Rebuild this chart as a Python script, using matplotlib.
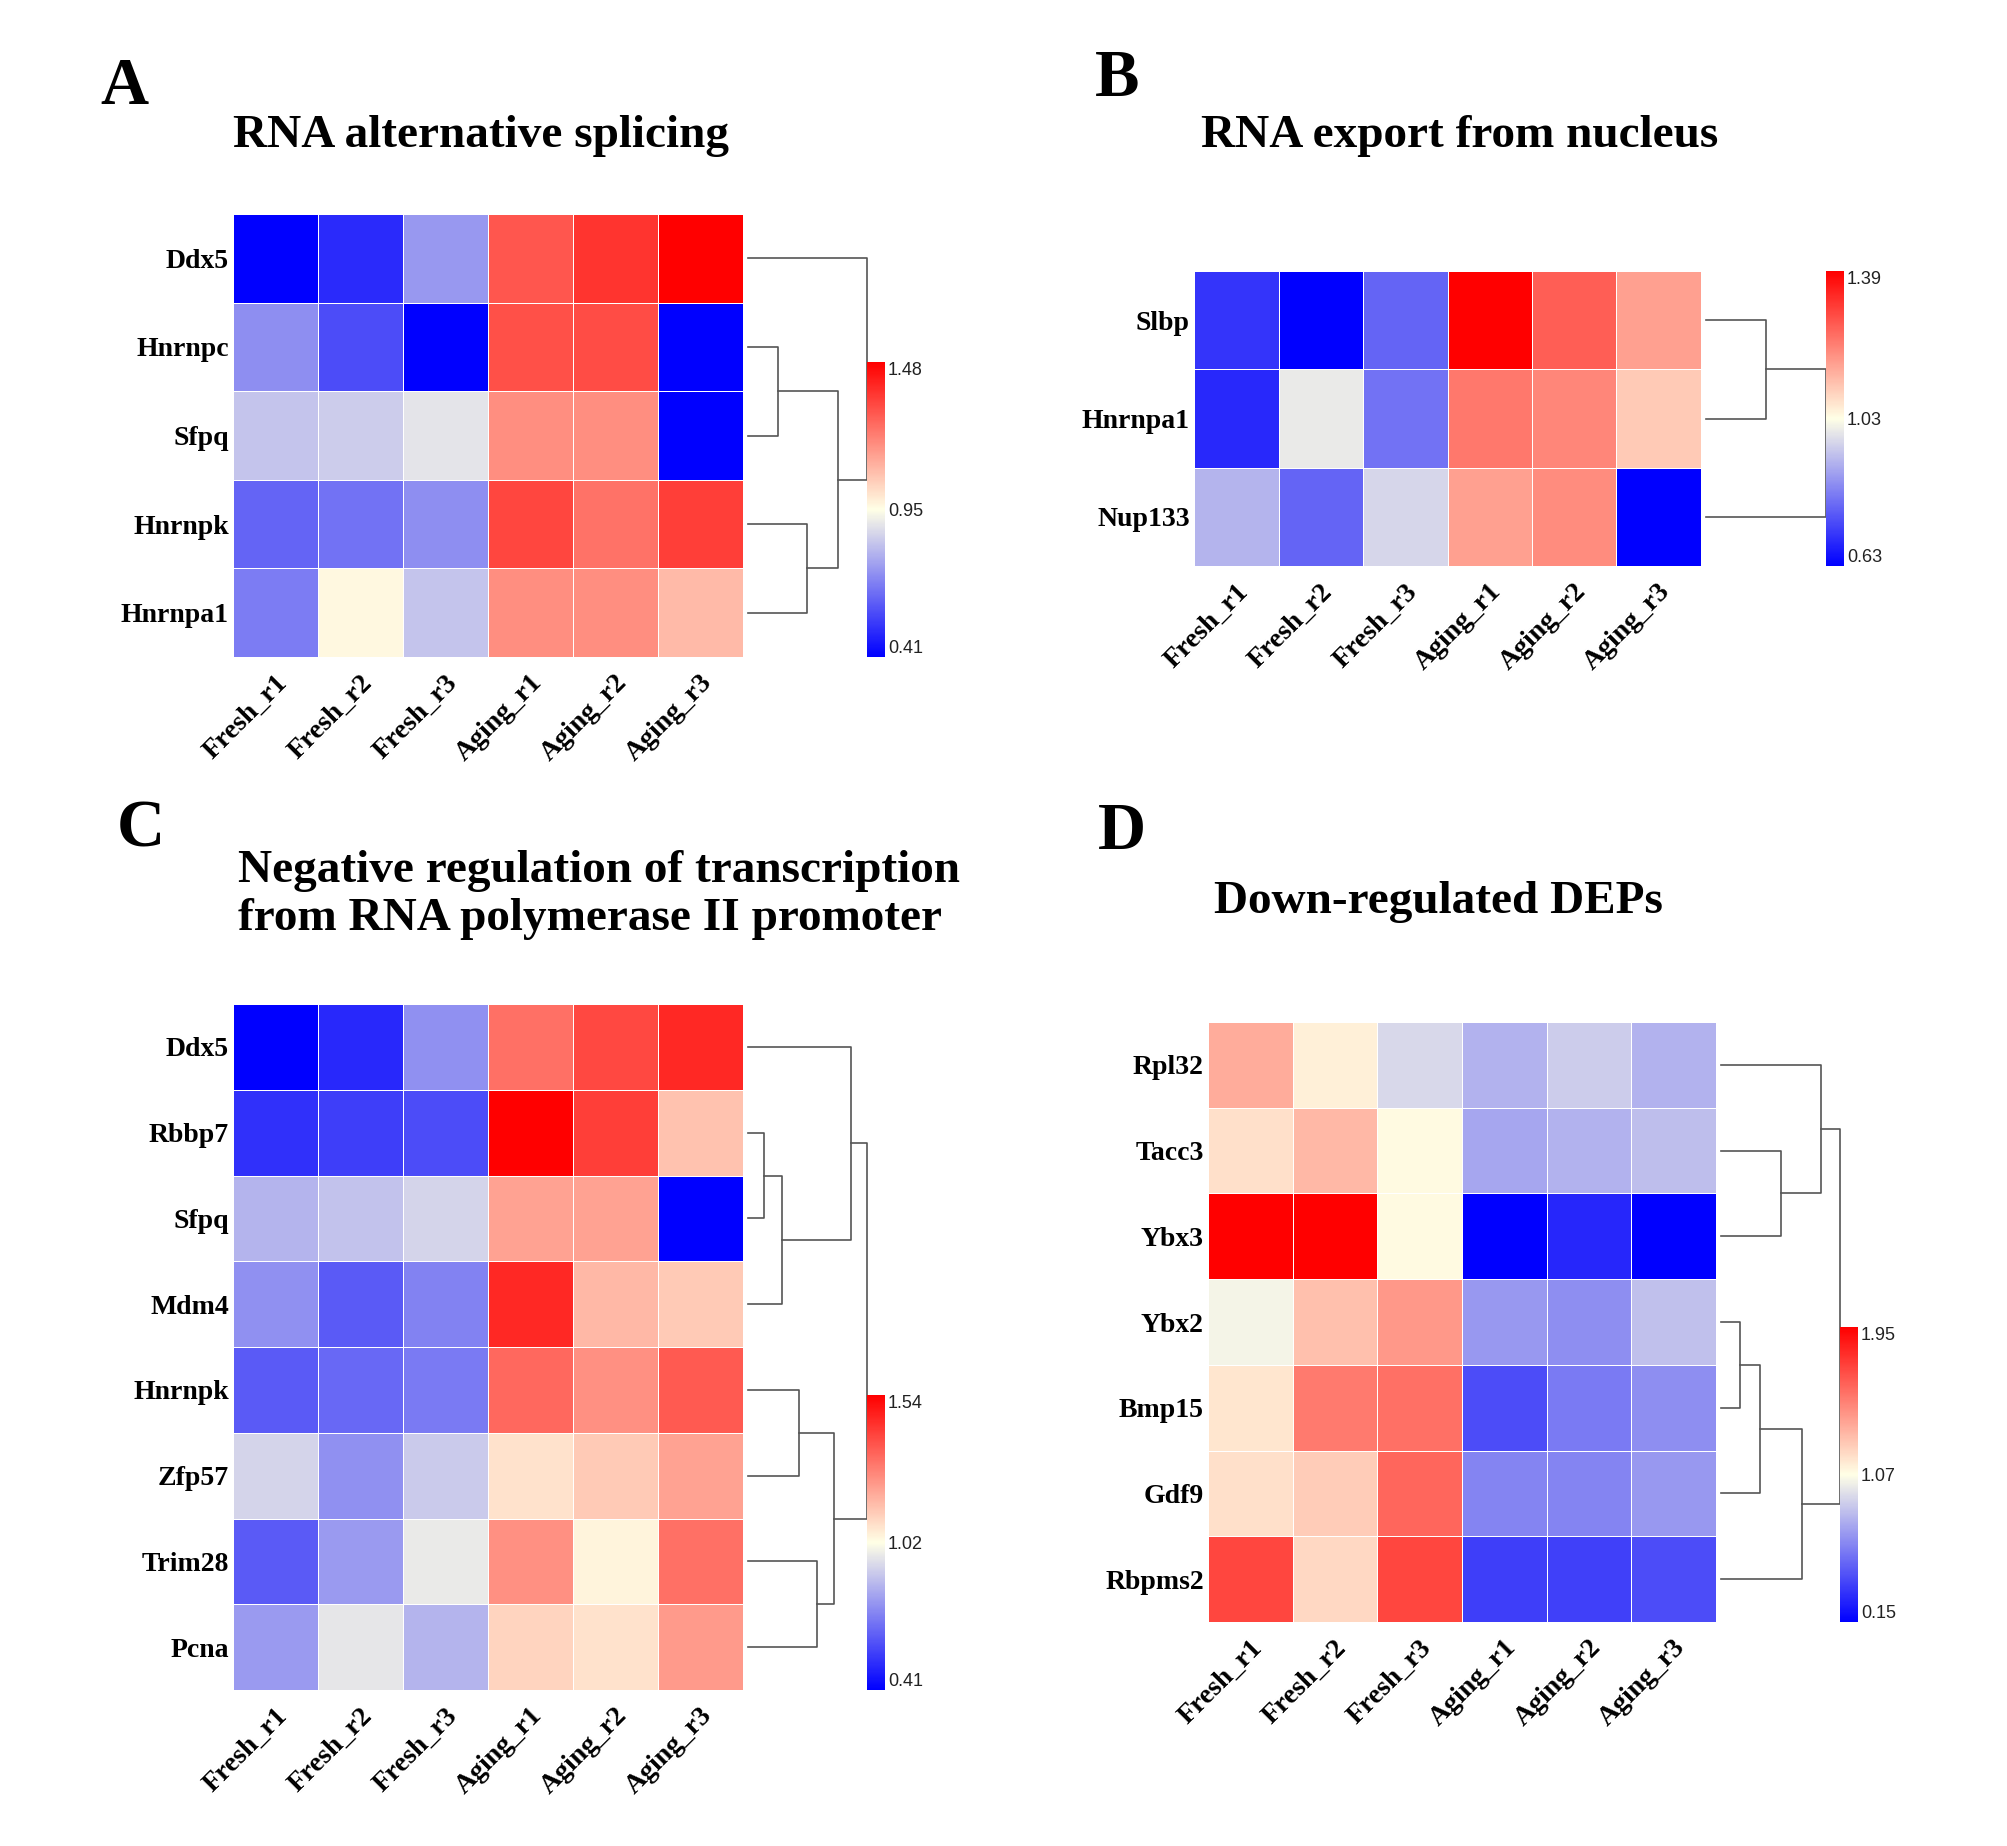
import numpy as np
import matplotlib
matplotlib.use('Agg')
import matplotlib.pyplot as plt
from matplotlib.colors import LinearSegmentedColormap, Normalize
from matplotlib.cm import ScalarMappable
from matplotlib.transforms import offset_copy

# ---------------- data ----------------
samples = ['Fresh_r1', 'Fresh_r2', 'Fresh_r3', 'Aging_r1', 'Aging_r2', 'Aging_r3']

# A - RNA alternative splicing
genes_a = ['Ddx5', 'Hnrnpc', 'Sfpq', 'Hnrnpk', 'Hnrnpa1']
expr_a = [[0.41, 0.50, 0.73, 1.30, 1.37, 1.48],
          [0.71, 0.57, 0.41, 1.31, 1.32, 0.41],
          [0.82, 0.84, 0.89, 1.18, 1.18, 0.41],
          [0.62, 0.65, 0.71, 1.33, 1.24, 1.35],
          [0.67, 0.96, 0.82, 1.18, 1.18, 1.09]]
tree_a = [(1, 2, 0.25), (3, 4, 0.50), (5, 6, 0.76), (0, 7, 1.00)]
range_a = (0.41, 1.48)
cbar_a = ['0.41', '0.95', '1.48']

# B - RNA export from nucleus
genes_b = ['Slbp', 'Hnrnpa1', 'Nup133']
expr_b = [[0.71, 0.63, 0.78, 1.39, 1.25, 1.15],
          [0.69, 0.98, 0.80, 1.21, 1.19, 1.09],
          [0.90, 0.78, 0.95, 1.15, 1.18, 0.63]]
tree_b = [(0, 1, 0.50), (3, 2, 1.00)]
range_b = (0.63, 1.39)
cbar_b = ['0.63', '1.03', '1.39']

# C - negative regulation of transcription
genes_c = ['Ddx5', 'Rbbp7', 'Sfpq', 'Mdm4', 'Hnrnpk', 'Zfp57', 'Trim28', 'Pcna']
expr_c = [[0.41, 0.50, 0.73, 1.29, 1.38, 1.45],
          [0.52, 0.55, 0.58, 1.54, 1.40, 1.11],
          [0.81, 0.84, 0.88, 1.18, 1.18, 0.41],
          [0.73, 0.61, 0.70, 1.45, 1.13, 1.09],
          [0.61, 0.64, 0.68, 1.31, 1.22, 1.34],
          [0.88, 0.73, 0.86, 1.04, 1.09, 1.18],
          [0.61, 0.75, 0.93, 1.22, 1.00, 1.29],
          [0.75, 0.92, 0.81, 1.07, 1.04, 1.20]]
tree_c = [(1, 2, 0.138), (8, 3, 0.284), (0, 9, 0.862), (4, 5, 0.431),
          (6, 7, 0.578), (11, 12, 0.724), (10, 13, 1.00)]
range_c = (0.41, 1.54)
cbar_c = ['0.41', '1.02', '1.54']

# D - down-regulated DEPs
genes_d = ['Rpl32', 'Tacc3', 'Ybx3', 'Ybx2', 'Bmp15', 'Gdf9', 'Rbpms2']
expr_d = [[1.34, 1.10, 0.91, 0.78, 0.87, 0.78],
          [1.16, 1.30, 1.07, 0.74, 0.78, 0.82],
          [1.95, 1.95, 1.07, 0.15, 0.29, 0.15],
          [1.01, 1.27, 1.41, 0.69, 0.65, 0.83],
          [1.14, 1.52, 1.55, 0.42, 0.58, 0.65],
          [1.16, 1.23, 1.59, 0.62, 0.62, 0.69],
          [1.70, 1.19, 1.70, 0.37, 0.38, 0.42]]
tree_d = [(1, 2, 0.50), (0, 7, 0.84), (3, 4, 0.16), (9, 5, 0.33),
          (10, 6, 0.68), (8, 11, 1.00)]
range_d = (0.15, 1.95)
cbar_d = ['0.15', '1.07', '1.95']

# ---------------- style ----------------
W, H = 2008, 1846
serif = 'Liberation Serif'
cmap = LinearSegmentedColormap.from_list('bwr_tb', ['#0000FF', '#FFFFE6', '#FF0000'])
tree_color = '#555555'

fig = plt.figure(figsize=(W / 100, H / 100), dpi=100)


def rect(x0, y0, x1, y1):
    # pixel box (top-left origin) -> figure fraction
    return [x0 / W, 1 - y1 / H, (x1 - x0) / W, (y1 - y0) / H]


def draw_tree(ax, merges, n):
    pos = {i: i + 0.5 for i in range(n)}
    hgt = {i: 0.0 for i in range(n)}
    for k, (a, b, h) in enumerate(merges):
        ax.plot([hgt[a], h, h, hgt[b]], [pos[a], pos[a], pos[b], pos[b]],
                color=tree_color, lw=1.2, clip_on=False)
        pos[n + k] = (pos[a] + pos[b]) / 2
        hgt[n + k] = h
    ax.set_xlim(0, 1)
    ax.set_ylim(n, 0)
    ax.axis('off')


def panel(box, genes, vals, tree, vrange, cb_labels, cbar_x):
    x0, y0, x1, y1 = box
    vals = np.array(vals)
    nr, nc = vals.shape
    norm = Normalize(vmin=vrange[0], vmax=vrange[1])

    ax = fig.add_axes(rect(x0, y0, x1, y1))
    ax.pcolormesh(np.arange(nc + 1), np.arange(nr + 1), vals, cmap=cmap, norm=norm,
                  edgecolors='white', linewidth=0.5)
    ax.set_xlim(0, nc)
    ax.set_ylim(nr, 0)
    for s in ax.spines.values():
        s.set_visible(False)
    ax.set_yticks(np.arange(nr) + 0.5)
    ax.set_yticklabels(genes, fontfamily=serif, fontweight='bold', fontsize=20)
    ax.tick_params(axis='y', length=0, pad=3)
    ax.set_xticks([])
    tr = offset_copy(ax.transData, fig=fig, x=8, y=-22, units='dots')
    for j, lab in enumerate(samples):
        ax.text(j + 0.5, nr, lab, transform=tr, rotation=45, rotation_mode='anchor',
                ha='right', va='center', fontfamily=serif, fontweight='bold', fontsize=20)

    # dendrogram
    dax = fig.add_axes(rect(x1 + 5, y0, cbar_x, y1))
    draw_tree(dax, tree, nr)

    # colour bar, fixed height, bottom aligned with heatmap
    cax = fig.add_axes(rect(cbar_x, y1 - 295, cbar_x + 18, y1))
    cb = fig.colorbar(ScalarMappable(norm=norm, cmap=cmap), cax=cax)
    cb.outline.set_visible(False)
    cb.set_ticks([vrange[0], (vrange[0] + vrange[1]) / 2, vrange[1]])
    cb.set_ticklabels(cb_labels)
    cax.tick_params(length=0, pad=2, labelsize=13, labelcolor='#222222')
    tl = cax.get_yticklabels()
    tl[0].set_va('bottom')
    tl[2].set_va('top')
    for t in tl:
        t.set_fontfamily('Liberation Sans')
    return ax


panel((233, 214, 743, 657), genes_a, expr_a, tree_a, range_a, cbar_a, 867)
panel((1194, 271, 1701, 566), genes_b, expr_b, tree_b, range_b, cbar_b, 1826)
panel((233, 1004, 743, 1690), genes_c, expr_c, tree_c, range_c, cbar_c, 867)
panel((1208, 1022, 1716, 1622), genes_d, expr_d, tree_d, range_d, cbar_d, 1840)

# panel letters and titles
letters = [('A', 124, 87), ('B', 1117, 80), ('C', 141, 830), ('D', 1122, 832)]
for lab, x, y in letters:
    fig.text(x / W, 1 - y / H, lab, ha='center', va='center', fontfamily=serif,
             fontweight='bold', fontsize=48)

titles = [('RNA alternative splicing', 233, 136),
          ('RNA export from nucleus', 1201, 136),
          ('Negative regulation of transcription\nfrom RNA polymerase II promoter', 238, 895),
          ('Down-regulated DEPs', 1214, 902)]
for txt, x, y in titles:
    fig.text(x / W, 1 - y / H, txt, ha='left', va='center', fontfamily=serif,
             fontweight='bold', fontsize=34, linespacing=1.2)

fig.savefig('out.png', dpi=100)
